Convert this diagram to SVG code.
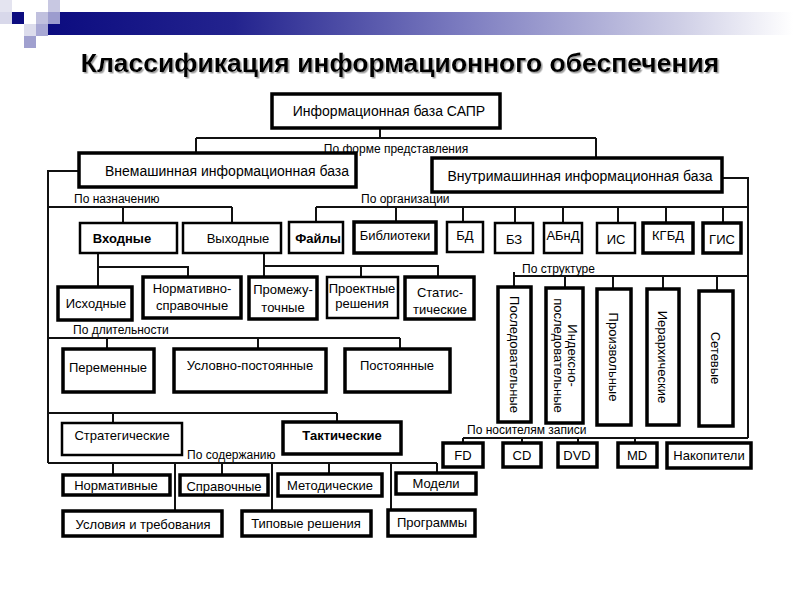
<svg xmlns="http://www.w3.org/2000/svg" width="800" height="600" viewBox="0 0 800 600">
<defs>
<linearGradient id="band" x1="0" y1="0" x2="1" y2="0">
<stop offset="0" stop-color="#0c0c80"/>
<stop offset="0.25" stop-color="#23238e"/>
<stop offset="0.55" stop-color="#7a7abf"/>
<stop offset="0.85" stop-color="#cfcfe6"/>
<stop offset="1" stop-color="#ffffff"/>
</linearGradient>
<filter id="shadow" x="-5%" y="-20%" width="110%" height="150%">
<feDropShadow dx="1.5" dy="1.5" stdDeviation="0.6" flood-color="#888" flood-opacity="0.8"/>
</filter>
<style>
.b{fill:#fff;stroke:#000;stroke-width:2.5}
.t{fill:#fff;stroke:#000;stroke-width:3.5}
.c{fill:none;stroke:#111;stroke-width:2}
text{font-family:"Liberation Sans",Arial,sans-serif;fill:#000}
.l{font-size:13px;text-anchor:middle}
.s{font-size:12px}
.m{font-size:14px;text-anchor:middle}
.bd{font-weight:bold}
</style>
</defs>
<rect width="800" height="600" fill="#fff"/>
<g id="header">
<rect x="48" y="12" width="745" height="23" fill="url(#band)"/>
<rect x="0" y="0" width="12" height="12" fill="#e4e4f0"/>
<rect x="12" y="12" width="12" height="12" fill="#0c0c80"/>
<rect x="0" y="12" width="12" height="12" fill="#d8d8ea"/>
<rect x="48" y="0" width="12" height="12" fill="#c8c8e2"/>
<rect x="36" y="12" width="12" height="12" fill="#c0c0de"/>
<rect x="48" y="12" width="12" height="12" fill="#9c9cce"/>
<rect x="24" y="24" width="12" height="12" fill="#dcdcec"/>
<rect x="36" y="24" width="12" height="12" fill="#a8a8d4"/>
<rect x="24" y="36" width="12" height="12" fill="#a0a0cf"/>
<text x="400" y="72" font-size="26.5" font-weight="bold" text-anchor="middle" filter="url(#shadow)">Классификация информационного обеспечения</text>
</g>
<g id="connectors">
<path class="c" d="M380 128V138M196 138H596M196 138V153M596 138V158"/>
<path class="c" d="M722 178H748V438"/>
<path class="c" d="M79 171H48V463"/>
<path class="c" d="M48 207H232M123 207V223M232 207V223"/>
<path class="c" d="M98 253V287M98 267H188V277"/>
<path class="c" d="M264 253V277M264 266H438V277M361 266V277"/>
<path class="c" d="M48 338H400M107 338V349M258 338V349M400 338V349"/>
<path class="c" d="M48 413H337M113 413V423M337 413V422"/>
<path class="c" d="M48 463H437M113 463V475M175 463V511M222 463V475M272 463V511M329 463V474M391 463V510M437 463V473"/>
<path class="c" d="M316 207H748M316 207V222M396 207V222M463 207V222M515 207V223M563 207V223M618 207V223M666 207V223M723 207V223"/>
<path class="c" d="M514 276H748M514 272V287M565 276V288M613 276V289M663 276V289M717 276V291"/>
<path class="c" d="M463 438H748M463 438V443M522 438V443M578 438V443M635 438V443"/>
</g>
<g id="labels">
<text class="s" x="396" y="153" text-anchor="middle">По форме представления</text>
<text class="s" x="74" y="203">По назначению</text>
<text class="s" x="361" y="203">По организации</text>
<text class="s" x="73" y="334">По длительности</text>
<text class="s" x="187" y="459">По содержанию</text>
<text class="s" x="522" y="273">По структуре</text>
<text class="s" x="467" y="434">По носителям записи</text>
</g>
<g id="n-sapr"><rect class="t" x="272" y="94" width="228" height="34"/><text class="m" x="389" y="116">Информационная база САПР</text></g>
<g id="n-vnem"><rect class="t" x="79" y="153" width="277" height="34"/><text class="m" x="227" y="176">Внемашинная информационная база</text></g>
<g id="n-vnutr"><rect class="t" x="432" y="158" width="290" height="34"/><text class="m" x="580" y="181">Внутримашинная информационная база</text></g>
<g id="n-vhod"><rect class="b" x="80" y="223" width="97" height="30"/><text class="l bd" x="122" y="243">Входные</text></g>
<g id="n-vyhod"><rect class="b" x="183" y="223" width="98" height="30"/><text class="l" x="238" y="243">Выходные</text></g>
<g id="n-ishod"><rect class="t" x="58" y="287" width="74" height="33"/><text class="l" x="96" y="308">Исходные</text></g>
<g id="n-norm-spr"><rect class="t" x="143" y="277" width="98" height="41"/><text class="l" x="192" y="293">Нормативно-</text><text class="l" x="192" y="310">справочные</text></g>
<g id="n-promezh"><rect class="t" x="249" y="277" width="68" height="42"/><text class="l" x="283" y="294">Промежу-</text><text class="l" x="283" y="312">точные</text></g>
<g id="n-proekt"><rect class="b" x="327" y="277" width="71" height="41"/><text class="l" x="362" y="293" font-size="11">Проектные</text><text class="l" x="362" y="308" font-size="11">решения</text></g>
<g id="n-statis"><rect class="t" x="405" y="277" width="69" height="42"/><text class="l" x="440" y="297">Статис-</text><text class="l" x="440" y="314">тические</text></g>
<g id="n-fayly"><rect class="b" x="289" y="222" width="54" height="31"/><text class="l bd" x="318" y="243">Файлы</text></g>
<g id="n-bibl"><rect class="t" x="354" y="222" width="82" height="31"/><text class="l" x="395" y="240">Библиотеки</text></g>
<g id="n-bd"><rect class="b" x="447" y="222" width="36" height="30"/><text class="l" x="465" y="240">БД</text></g>
<g id="n-bz"><rect class="b" x="495" y="223" width="38" height="30"/><text class="l" x="514" y="244">БЗ</text></g>
<g id="n-abnd"><rect class="b" x="544" y="223" width="38" height="30"/><text class="l" x="563" y="240" font-size="12">АБнД</text></g>
<g id="n-is"><rect class="b" x="597" y="223" width="38" height="30"/><text class="l" x="616" y="244">ИС</text></g>
<g id="n-kgbd"><rect class="t" x="643" y="223" width="50" height="30"/><text class="l" x="668" y="240">КГБД</text></g>
<g id="n-gis"><rect class="t" x="703" y="223" width="38" height="30"/><text class="l" x="722" y="244">ГИС</text></g>
<g id="n-posl"><rect class="t" x="498" y="287" width="33" height="135"/><text class="l" transform="translate(514.5 354.5) rotate(90)" y="5">Последовательные</text></g>
<g id="n-indeks"><rect class="t" x="546" y="288" width="37" height="135"/><text class="l" font-size="12" transform="translate(564.5 355.5) rotate(90)" y="-3">Индексно-</text><text class="l" font-size="12" transform="translate(564.5 355.5) rotate(90)" y="11">последовательные</text></g>
<g id="n-proizv"><rect class="t" x="597" y="289" width="34" height="136"/><text class="l" transform="translate(614 357) rotate(90)" y="5">Произвольные</text></g>
<g id="n-ierarh"><rect class="t" x="647" y="289" width="32" height="136"/><text class="l" transform="translate(663 357) rotate(90)" y="5">Иерархические</text></g>
<g id="n-setev"><rect class="t" x="699" y="291" width="34" height="135"/><text class="l" transform="translate(716 358) rotate(90)" y="5">Сетевые</text></g>
<g id="n-fd"><rect class="t" x="443" y="443" width="40" height="24"/><text class="l" x="463" y="460">FD</text></g>
<g id="n-cd"><rect class="t" x="503" y="443" width="38" height="24"/><text class="l" x="522" y="460">CD</text></g>
<g id="n-dvd"><rect class="t" x="558" y="443" width="39" height="24"/><text class="l" x="577" y="460">DVD</text></g>
<g id="n-md"><rect class="t" x="618" y="443" width="39" height="24"/><text class="l" x="637" y="460">MD</text></g>
<g id="n-nakop"><rect class="t" x="667" y="443" width="84" height="25"/><text class="l" x="709" y="460">Накопители</text></g>
<g id="n-perem"><rect class="t" x="63" y="349" width="91" height="43"/><text class="l" x="108" y="372">Переменные</text></g>
<g id="n-uslovno"><rect class="t" x="174" y="349" width="152" height="43"/><text class="l" x="250" y="370">Условно-постоянные</text></g>
<g id="n-postoyan"><rect class="t" x="345" y="349" width="105" height="43"/><text class="l" x="397" y="370">Постоянные</text></g>
<g id="n-strateg"><rect class="b" x="62" y="423" width="120" height="32"/><text class="l" x="122" y="440">Стратегические</text></g>
<g id="n-takt"><rect class="t" x="283" y="422" width="118" height="32"/><text class="l bd" x="342" y="440">Тактические</text></g>
<g id="n-normat"><rect class="t" x="63" y="475" width="107" height="20"/><text class="l" x="116" y="490">Нормативные</text></g>
<g id="n-sprav"><rect class="t" x="180" y="475" width="88" height="20"/><text class="l" x="224" y="491">Справочные</text></g>
<g id="n-metod"><rect class="t" x="278" y="474" width="104" height="22"/><text class="l" x="330" y="490">Методические</text></g>
<g id="n-modeli"><rect class="t" x="396" y="473" width="80" height="21"/><text class="l" x="436" y="488">Модели</text></g>
<g id="n-usl-treb"><rect class="t" x="63" y="511" width="159" height="25"/><text class="l" x="143" y="529">Условия и требования</text></g>
<g id="n-tipov"><rect class="t" x="242" y="511" width="129" height="25"/><text class="l" x="306" y="528">Типовые решения</text></g>
<g id="n-progr"><rect class="t" x="388" y="510" width="87" height="26"/><text class="l" x="432" y="527">Программы</text></g>
</svg>
